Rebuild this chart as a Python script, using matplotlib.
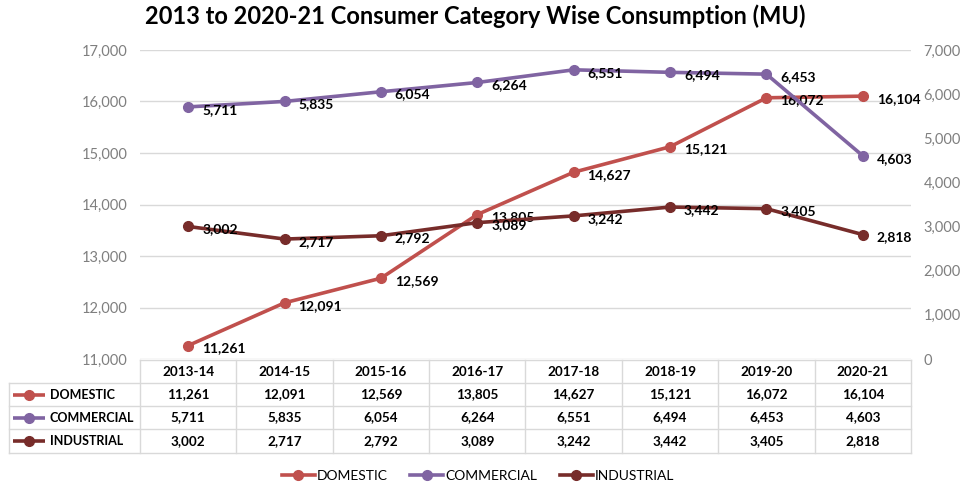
import matplotlib
matplotlib.use("Agg")
import matplotlib.pyplot as plt
from matplotlib.lines import Line2D

plt.rcParams['font.family'] = ['Lato', 'DejaVu Sans']

years = ['2013-14', '2014-15', '2015-16', '2016-17', '2017-18', '2018-19', '2019-20', '2020-21']
domestic = [11261, 12091, 12569, 13805, 14627, 15121, 16072, 16104]
commercial = [5711, 5835, 6054, 6264, 6551, 6494, 6453, 4603]
industrial = [3002, 2717, 2792, 3089, 3242, 3442, 3405, 2818]

series_names = ['DOMESTIC', 'COMMERCIAL', 'INDUSTRIAL']
series_values = [domestic, commercial, industrial]
colors = ['#C0504D', '#8064A2', '#772C2A']

W, H = 962, 490
fig = plt.figure(figsize=(W / 100, H / 100), dpi=100)


def fx(px):
    return px / W


def fy(py):
    return 1 - py / H


# plot area in pixels
left, right, top, bottom = 140, 911, 50, 359
ax = fig.add_axes([fx(left), fy(bottom), fx(right) - fx(left), fy(top) - fy(bottom)])
ax2 = ax.twinx()

x = list(range(len(years)))
ax.set_xlim(-0.5, len(years) - 0.5)
ax.set_ylim(11000, 17000)
ax2.set_ylim(0, 7000)
ax.set_yticks(range(11000, 17001, 1000))
ax2.set_yticks(range(0, 7001, 1000))
ax.set_yticklabels([f'{v:,}' for v in range(11000, 17001, 1000)])
ax2.set_yticklabels([f'{v:,}' for v in range(0, 7001, 1000)])
for a in (ax, ax2):
    for s in a.spines.values():
        s.set_visible(False)
    a.tick_params(axis='y', length=0, labelsize=10.5, colors='#7f7f7f', pad=9)
    a.set_xticks([])
ax.grid(axis='y', color='#d9d9d9', linewidth=1)
ax.set_axisbelow(True)

lw, ms = 2.6, 7
ax.plot(x, domestic, color=colors[0], lw=lw, marker='o', ms=ms, zorder=3)
ax2.plot(x, commercial, color=colors[1], lw=lw, marker='o', ms=ms, zorder=3)
ax2.plot(x, industrial, color=colors[2], lw=lw, marker='o', ms=ms, zorder=3)

lbl = dict(fontsize=10, fontweight='bold', color='black', ha='left', va='center',
           textcoords='offset points', xytext=(10, -2), zorder=5)
for a, vals in ((ax, domestic), (ax2, commercial), (ax2, industrial)):
    for i, v in enumerate(vals):
        a.annotate(f'{v:,}', (i, v), **lbl)

fig.text(fx(475), fy(16), '2013 to 2020-21 Consumer Category Wise Consumption (MU)',
         ha='center', va='center', fontsize=17, fontweight='bold')

# data table
tab = fig.add_axes([0, 0, 1, 1], zorder=-1)
tab.set_xlim(0, W)
tab.set_ylim(H, 0)
tab.axis('off')
col_edges = [left + (right - left) * k / len(years) for k in range(len(years) + 1)]
row_edges = [360, 383, 406, 429, 453]
tbl_left = 9
gc = '#d9d9d9'
tab.plot([left, right], [row_edges[0]] * 2, color=gc, lw=1)
for ry in row_edges[1:]:
    tab.plot([tbl_left, right], [ry, ry], color=gc, lw=1)
for cx in col_edges:
    tab.plot([cx, cx], [row_edges[0], row_edges[-1]], color=gc, lw=1)
tab.plot([tbl_left, tbl_left], [row_edges[1], row_edges[-1]], color=gc, lw=1)

for k, yr in enumerate(years):
    cx = (col_edges[k] + col_edges[k + 1]) / 2
    tab.text(cx, (row_edges[0] + row_edges[1]) / 2, yr, ha='center', va='center',
             fontsize=9.7, fontweight='bold')
for r, (name, vals, c) in enumerate(zip(series_names, series_values, colors)):
    cy = (row_edges[r + 1] + row_edges[r + 2]) / 2
    tab.plot([13, 45], [cy, cy], color=c, lw=lw, solid_capstyle='butt')
    tab.plot([29], [cy], marker='o', color=c, ms=ms)
    tab.text(50, cy, name, ha='left', va='center', fontsize=9, fontweight='bold')
    for k, v in enumerate(vals):
        cx = (col_edges[k] + col_edges[k + 1]) / 2
        tab.text(cx, cy, f'{v:,}', ha='center', va='center', fontsize=9.7, fontweight='bold')

handles = [Line2D([0], [0], color=c, lw=lw, marker='o', ms=ms) for c in colors]
fig.legend(handles, series_names, loc='center', bbox_to_anchor=(fx(478), fy(476)), ncol=3,
           frameon=False, fontsize=10, handlelength=2.4, handletextpad=0.15,
           columnspacing=1.6)

fig.savefig('out.png', dpi=100)
